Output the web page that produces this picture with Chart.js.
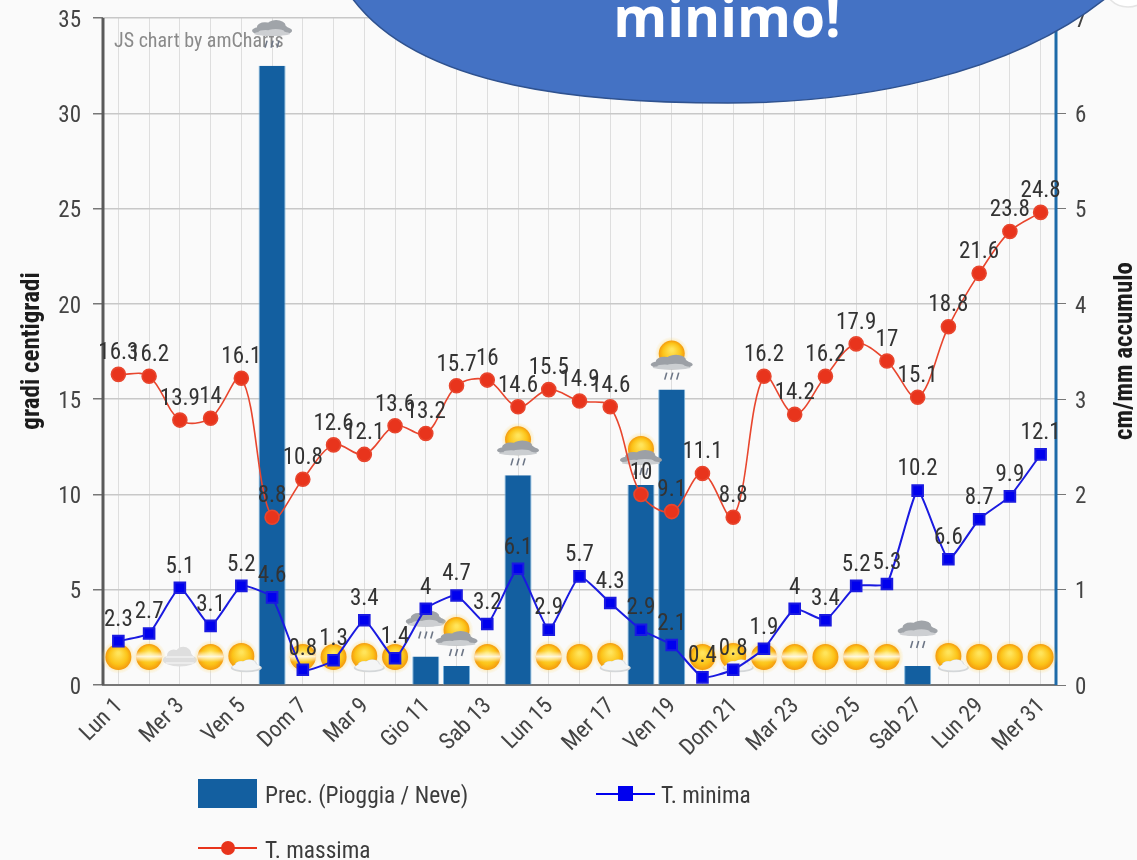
<!DOCTYPE html>
<html><head><meta charset="utf-8">
<script src="https://cdn.jsdelivr.net/npm/chart.js@4"></script>
<style>
html,body{margin:0;padding:0;background:#fafafa;width:1137px;height:860px;overflow:hidden}
#wrap{position:relative;width:1137px;height:860px;font-family:"Roboto",sans-serif;color:#3a3a3a}
canvas{position:absolute;left:0;top:0}
.leg{position:absolute;font-size:23.4px;line-height:28px;white-space:nowrap;color:#3c3c3c;font-stretch:condensed}
.sw{position:absolute}
#bubble{position:absolute;left:0;top:0}
#btext{position:absolute;left:527px;width:400px;top:-19px;text-align:center;font:bold 55px "Open Sans",sans-serif;color:#fff;line-height:70px}
</style></head><body>
<div id="wrap">
<canvas id="c" width="1137" height="860"></canvas>
<div class="sw" style="left:198px;top:779px;width:59px;height:29px;background:#135fa0"></div>
<div class="leg" style="left:265px;top:781px">Prec. (Pioggia / Neve)</div>
<div class="sw" style="left:596px;top:793px;width:59px;height:2px;background:#0000ee"></div>
<div class="sw" style="left:618px;top:786px;width:15px;height:15px;background:#0000ee"></div>
<div class="leg" style="left:661px;top:781px">T. minima</div>
<div class="sw" style="left:198px;top:847px;width:59px;height:2px;background:#e8341c"></div>
<div class="sw" style="left:221px;top:841px;width:14px;height:14px;border-radius:50%;background:#e8341c"></div>
<div class="leg" style="left:265px;top:836px">T. massima</div>
<svg id="bubble" width="1137" height="120" viewBox="0 0 1137 120">
  <circle cx="1128" cy="-18" r="25" fill="#ffffff" stroke="#e4e4e4" stroke-width="1.5"/>
  <path d="M352,-2 C420,90 590,103 728,103 C860,103 1010,75 1106,-2 Z" fill="#4472c4" stroke="#2f528f" stroke-width="1.5"/>
</svg>
<div id="btext">minimo!</div>
</div>
<script>
const categories=["Lun 1","Mar 2","Mer 3","Gio 4","Ven 5","Sab 6","Dom 7","Lun 8","Mar 9","Mer 10","Gio 11","Ven 12","Sab 13","Dom 14","Lun 15","Mar 16","Mer 17","Gio 18","Ven 19","Sab 20","Dom 21","Lun 22","Mar 23","Mer 24","Gio 25","Ven 26","Sab 27","Dom 28","Lun 29","Mar 30","Mer 31"];
const tMax=[16.3,16.2,13.9,14,16.1,8.8,10.8,12.6,12.1,13.6,13.2,15.7,16,14.6,15.5,14.9,14.6,10,9.1,11.1,8.8,16.2,14.2,16.2,17.9,17,15.1,18.8,21.6,23.8,24.8];
const tMin=[2.3,2.7,5.1,3.1,5.2,4.6,0.8,1.3,3.4,1.4,4,4.7,3.2,6.1,2.9,5.7,4.3,2.9,2.1,0.4,0.8,1.9,4,3.4,5.2,5.3,10.2,6.6,8.7,9.9,12.1];
const prec=[0,0,0,0,0,6.5,0,0,0,0,0.3,0.2,0,2.2,0,0,0,2.1,3.1,0,0,0,0,0,0,0,0.2,0,0,0,0];
const icons=["sun","haze","fog","haze","cloudy","rain","haze","sun","cloudy","sun","rain","sunrain","haze","sunrain","haze","sun","cloudy","sunrain","sunrain","sun","cloudy","haze","haze","sun","haze","haze","rain","cloudy","sun","sun","sun"];
const FONT='Roboto,sans-serif';

function drawSun(g,x,y,r){
  const o=g.createRadialGradient(x,y,r*0.7,x,y,r*1.3);
  o.addColorStop(0,'rgba(255,210,90,.7)');o.addColorStop(1,'rgba(255,220,120,0)');
  g.fillStyle=o;g.beginPath();g.arc(x,y,r*1.3,0,7);g.fill();
  const s=g.createRadialGradient(x,y-r*.3,r*.1,x,y,r);
  s.addColorStop(0,'#ffe45a');s.addColorStop(.65,'#fcc318');s.addColorStop(1,'#f49a0e');
  g.fillStyle=s;g.beginPath();g.arc(x,y,r,0,7);g.fill();
}
function cloud(g,x,y,w,h,col){
  g.fillStyle=col;g.beginPath();
  g.ellipse(x,y,w*.5,h*.32,0,0,7);
  g.ellipse(x-w*.18,y-h*.22,w*.2,h*.3,0,0,7);
  g.ellipse(x+w*.1,y-h*.3,w*.24,h*.36,0,0,7);
  g.fill();
}
function drops(g,x,y){
  g.strokeStyle='#6d7686';g.lineWidth=1.6;
  [-7,-1,5].forEach(d=>{g.beginPath();g.moveTo(x+d+2,y);g.lineTo(x+d,y+7);g.stroke();});
}
function drawIcon(g,kind,x,y){
  g.save();
  if(kind==='sun')drawSun(g,x,y,13);
  if(kind==='haze'){drawSun(g,x,y,13);
    const b=g.createLinearGradient(0,y-6,0,y+5);
    b.addColorStop(0,'rgba(255,255,255,0)');b.addColorStop(.5,'rgba(255,255,255,.8)');b.addColorStop(1,'rgba(255,255,255,0)');
    g.fillStyle=b;g.fillRect(x-13,y-6,26,11);}
  if(kind==='fog'){cloud(g,x,y+3,34,20,'#dedede');g.fillStyle='#ececec';g.fillRect(x-14,y-1,28,2);g.fillRect(x-14,y+5,28,2);}
  if(kind==='cloudy'){drawSun(g,x,y-1,13);cloud(g,x+5,y+11,31,13,'#d4d7d9');cloud(g,x+5,y+10,28,11,'#f4f5f5');}
  if(kind==='rain'){cloud(g,x,y-7,40,16,'#a0a4a9');cloud(g,x,y-4,36,7,'#cdcfd2');drops(g,x,y+3);}
  if(kind==='sunrain'){drawSun(g,x,y-8,13);cloud(g,x,y+3,42,15,'#9ca0a6');cloud(g,x,y+6,38,6,'#cbced1');drops(g,x,y+11);}
  g.restore();
}
const overlays={
  id:'overlays',
  beforeDatasetsDraw(ch){
    const g=ch.ctx;
    g.save();
    g.fillStyle='#8a8a8a';g.font='condensed 20px '+FONT;g.textAlign='left';g.textBaseline='middle';
    g.fillText('JS chart by amCharts',114,42);
    g.restore();
    g.save();
    g.strokeStyle='#5a5a5a';g.lineWidth=3;g.beginPath();g.moveTo(ch.chartArea.left,ch.chartArea.top);g.lineTo(ch.chartArea.left,ch.chartArea.bottom);g.stroke();
    g.strokeStyle='#1d6aa8';g.beginPath();g.moveTo(ch.chartArea.right,ch.chartArea.top);g.lineTo(ch.chartArea.right,ch.chartArea.bottom);g.stroke();
    g.restore();
  },
  afterDatasetDraw(ch,args){
    if(args.index!==0)return;
    const g=ch.ctx,x=ch.scales.x,yR=ch.scales.yR;
    icons.forEach((k,i)=>drawIcon(g,k,x.getPixelForValue(i),yR.getPixelForValue(prec[i])-28));
  },
  afterDatasetsDraw(ch){
    const g=ch.ctx,x=ch.scales.x,yL=ch.scales.yL;
    g.save();
    g.font='condensed 23px '+FONT;g.textAlign='center';g.textBaseline='middle';g.fillStyle='#333';
    [tMax,tMin].forEach(s=>s.forEach((v,i)=>{
      g.fillText(String(v),x.getPixelForValue(i),yL.getPixelForValue(v)-21);
    }));
    g.restore();
  },
  afterDraw(ch){
    const g=ch.ctx;
    g.save();g.font='condensed bold 25px '+FONT;g.fillStyle='#1c1c1c';g.textAlign='center';g.textBaseline='middle';
    [[33,'gradi centigradi'],[1126,'cm/mm accumulo']].forEach(([px,t])=>{
      g.save();g.translate(px,351);g.rotate(-Math.PI/2);g.fillText(t,0,0);g.restore();});
    g.restore();
  }
};
Chart.defaults.font.family=FONT;
function pinY(s,w){s.width=w;s.paddingTop=0;s.paddingBottom=0;}
new Chart(document.getElementById('c'),{
  data:{labels:categories,datasets:[
    {type:'bar',label:'Prec. (Pioggia / Neve)',data:prec,yAxisID:'yR',order:3,backgroundColor:'#135fa0',borderColor:'#7db4dc',borderWidth:{left:1,right:1,top:0,bottom:0},categoryPercentage:.88,barPercentage:1},
    {type:'line',label:'T. minima',data:tMin,yAxisID:'yL',order:2,borderColor:'#1a1ae0',backgroundColor:'#0000ee',borderWidth:2,pointStyle:'rect',pointRadius:7.5,pointHoverRadius:7.5,tension:.15},
    {type:'line',label:'T. massima',data:tMax,yAxisID:'yL',order:1,borderColor:'#e8462e',backgroundColor:'#e8341c',borderWidth:1.6,pointStyle:'circle',pointRadius:7,pointHoverRadius:7,tension:.35}
  ]},
  options:{
    responsive:false,animation:false,
    layout:{padding:{top:18}},
    plugins:{legend:{display:false},tooltip:{enabled:false}},
    scales:{
      x:{type:'category',offset:true,
        grid:{color:'#dedede',lineWidth:1,offset:false,drawTicks:false},
        border:{color:'#777',width:2},
        ticks:{autoSkip:false,minRotation:45,maxRotation:45,padding:8,color:'#444',font:{size:23,weight:'condensed'},labelOffset:1,
          callback(v,i){return i%2===0?this.getLabelForValue(v):'';}},
        afterFit(s){s.height=175;s.paddingLeft=0;s.paddingRight=0;}
      },
      yL:{position:'left',min:0,max:35,
        ticks:{stepSize:5,color:'#444',font:{size:23,weight:'condensed'},padding:12,labelOffset:3},
        grid:{color:'#c8c8c8',lineWidth:1.5,tickColor:'#777',tickLength:10},
        border:{display:false},
        afterFit(s){pinY(s,103);}
      },
      yR:{position:'right',min:0,max:7,
        ticks:{stepSize:1,color:'#444',font:{size:23,weight:'condensed'},padding:9,labelOffset:3},
        grid:{drawOnChartArea:false,tickColor:'#777',tickLength:10},
        border:{display:false},
        afterFit(s){pinY(s,81);}
      }
    }
  },
  plugins:[overlays]
});
</script>
</body></html>
